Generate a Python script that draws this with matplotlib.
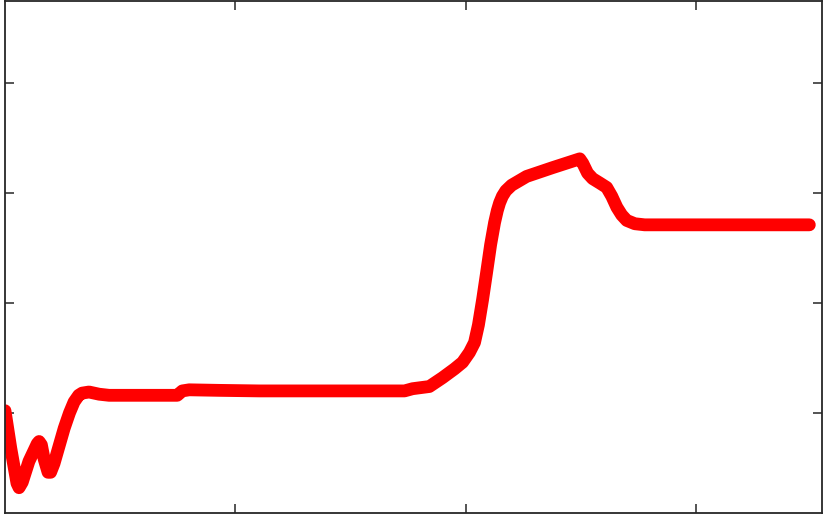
import matplotlib
matplotlib.use("Agg")
import matplotlib.pyplot as plt

# curve (arbitrary units, no tick labels shown)
x_vals = [0, 2.5, 5.2, 6.1, 7.5, 10.4, 14.0, 14.8, 15.8, 17.0, 18.7, 19.8,
          21.3, 23.5, 25.7, 28.0, 30.0, 32.0, 33.5, 36.5,
          40.9, 45.2, 74.8, 77.0, 80.0, 93.0, 110.4, 173.5, 177.0, 184.3,
          190.0, 195.2, 198.7, 201.7, 203.9, 205.6, 207.4, 209.1, 210.9,
          212.6, 213.8, 214.8, 216.0, 217.5, 220.0, 226.5, 237.8, 249.6,
          250.9, 253.0, 255.2, 258.3, 261.3, 263.5, 265.7, 267.8, 270.0,
          273.5, 277.8, 301.7, 349.3]
y_vals = [10.2, 6.8, 3.6, 3.2, 3.7, 5.6, 7.2, 7.4, 7.1, 5.8, 4.6, 4.6,
          5.4, 7.0, 8.6, 10.0, 11.0, 11.6, 11.8, 11.9,
          11.7, 11.6, 11.6, 12.0, 12.1, 12.05, 12.0, 12.0, 12.2, 12.4,
          13.2, 14.0, 14.6, 15.5, 16.4, 18.0, 20.3, 22.7, 25.3,
          27.3, 28.4, 29.1, 29.7, 30.2, 30.7, 31.5, 32.3, 33.1,
          32.7, 31.8, 31.3, 30.9, 30.5, 29.7, 28.7, 28.0, 27.5,
          27.2, 27.1, 27.1, 27.1]
x_ticks = [100, 200, 300]
y_ticks = [10, 20, 30, 40]


def main():
    fig = plt.figure(figsize=(8.30, 5.19), dpi=100)
    ax = fig.add_axes([5 / 830, 6 / 519, 817 / 830, 512 / 519])
    ax.plot(x_vals, y_vals, color="#ff0000", linewidth=9.2,
            solid_capstyle="round", solid_joinstyle="round")
    ax.set_xlim(0, 354.8)
    ax.set_ylim(0.9, 47.45)
    ax.set_xticks(x_ticks)
    ax.set_yticks(y_ticks)
    ax.set_xticklabels([])
    ax.set_yticklabels([])
    ax.tick_params(direction="in", length=6.5, width=1.1, color="#262626",
                   top=True, right=True)
    for sp in ax.spines.values():
        sp.set_color("#262626")
        sp.set_linewidth(1.3)
    fig.savefig("out.png", dpi=100)
    plt.close(fig)


if __name__ == "__main__":
    main()
